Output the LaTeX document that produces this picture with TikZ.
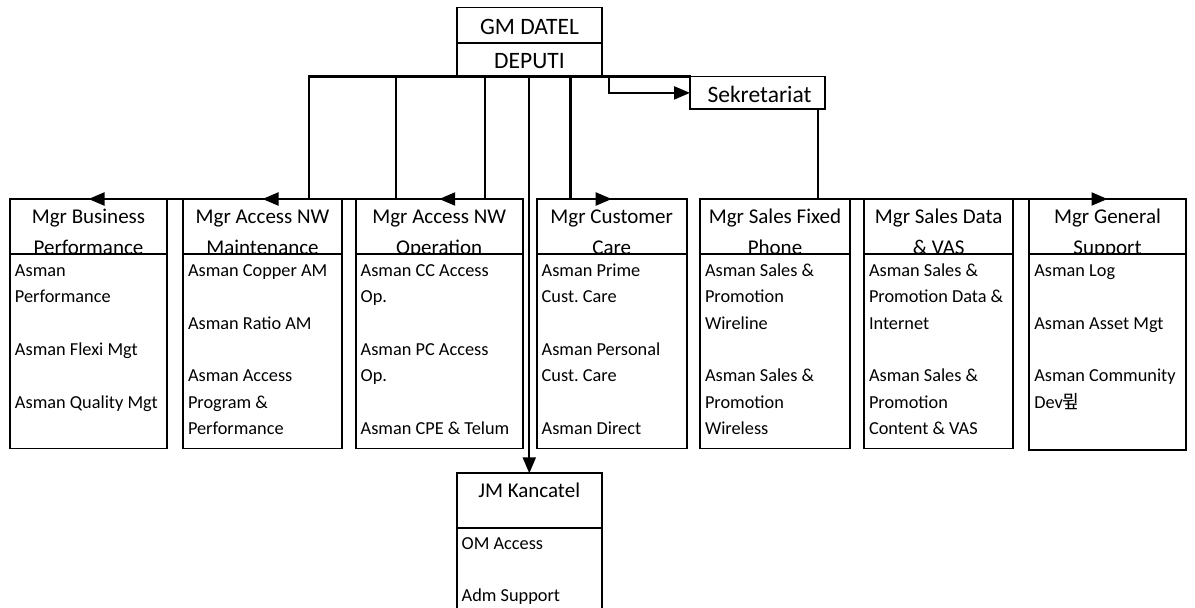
\documentclass[tikz,border=0pt]{standalone}
\usepackage{fontspec}
\setmainfont{Carlito}
\newfontfamily\krfont{Noto Sans CJK KR}
\usetikzlibrary{arrows.meta,calc}
\frenchspacing
\newcommand\bodyfont{\fontsize{18.3}{26.3}\selectfont}
\newcommand\headfont{\fontsize{21}{31}\selectfont}
\newcommand\topfont{\fontsize{23.5}{28}\selectfont}
\newcommand\orggap{\\[26.3pt]}
\tikzset{
  orgbox/.style={draw, line width=1.8pt, rectangle, inner sep=0pt, outer sep=0pt, anchor=north west},
  orgtxt/.style={inner sep=0pt, outer sep=0pt},
  conn/.style={line width=2.2pt, line cap=rect},
  arr/.style={line width=2.2pt, -{Triangle[length=16pt,width=13pt]}},
}
\newcommand\orgcol[6]{%
  \node[orgbox, minimum width={#3-#2}, minimum height=55] (#1) at (#2,199) {};
  \node[orgtxt, anchor=base] (#1-head) at ($(#1.north)+(0,24)$)
     {\parbox[t]{\dimexpr#3pt-#2pt\relax}{\headfont\centering #5\par}};
  \node[orgbox, fill=white, minimum width={#3-#2}, minimum height={#4-254}] (#1-body) at (#2,254) {};
  \node[orgtxt, anchor=base west] (#1-list) at ({#2+5},276.5)
     {\parbox[t]{300pt}{\bodyfont\raggedright #6\par}};
}
\begin{document}
\begin{tikzpicture}[x=1pt,y=-1pt]
\useasboundingbox (0,0) rectangle (1195,608);
\fill[white] (0,0) rectangle (1195,608);

% top boxes
\node[orgbox, minimum width=145.6, minimum height=35.2] (gm) at (456.7,7.5) {};
\node[orgtxt, anchor=base] (gm-t) at ($(gm.north)+(0,26.5)$) {\topfont GM DATEL};
\node[orgbox, minimum width=145.6, minimum height=33.8] (dep) at (456.7,42.7) {};
\node[orgtxt, anchor=base] (dep-t) at ($(dep.north)+(0,25.6)$) {\topfont DEPUTI};
\node[orgbox, minimum width=135, minimum height=32.8] (sek) at (690,76.5) {};
\node[orgtxt, anchor=base] (sek-t) at ($(sek.north)+(2,25.8)$) {\topfont Sekretariat};

% columns
\orgcol{bus}{10}{167}{448.5}{Mgr Business\\Performance}
  {Asman\\Performance\orggap Asman Flexi Mgt\orggap Asman Quality Mgt}
\orgcol{mnt}{183}{342}{448.5}{Mgr Access NW\\Maintenance}
  {Asman Copper AM\orggap Asman Ratio AM\orggap Asman Access\\Program \&\\Performance}
\orgcol{ops}{355.7}{522.7}{448.5}{Mgr Access NW\\Operation}
  {Asman CC Access\\Op.\orggap Asman PC Access\\Op.\orggap Asman CPE \& Telum}
\orgcol{cc}{536.7}{686.7}{448.5}{Mgr Customer\\Care}
  {Asman Prime\\Cust. Care\orggap Asman Personal\\Cust. Care\orggap Asman Direct}
\orgcol{sfp}{700}{850}{448.5}{Mgr Sales Fixed\\Phone}
  {Asman Sales \&\\Promotion\\Wireline\orggap Asman Sales \&\\Promotion\\Wireless}
\orgcol{sdv}{864}{1013.3}{448.5}{Mgr Sales Data\\\& VAS}
  {Asman Sales \&\\Promotion Data \&\\Internet\orggap Asman Sales \&\\Promotion\\Content \& VAS}
\orgcol{gen}{1029.3}{1185.7}{450}{Mgr General\\Support}
  {Asman Log\orggap Asman Asset Mgt\orggap Asman Community\\Dev{\krfont 뮢}}

% JM Kancatel
\node[orgbox, minimum width=145, minimum height=54.4] (jm) at (456.7,473.3) {};
\node[orgtxt, anchor=base] (jm-t) at ($(jm.north)+(0,24)$) {\headfont JM Kancatel};
\node[orgbox, fill=white, minimum width=145, minimum height=90] (jm-body) at (456.7,527.7) {};
\node[orgtxt, anchor=base west] (jm-list) at (461.7,549)
  {\parbox[t]{200pt}{\bodyfont\raggedright OM Access\orggap Adm Support\par}};

% connectors
\coordinate (j1) at (308.7,76.5);
\coordinate (j2) at (396,76.5);
\coordinate (j3) at (485,76.5);
\coordinate (j4) at (529.3,76.5);
\coordinate (j5) at (570.5,76.5);
\coordinate (j6) at (609.3,76.5);
\coordinate (s1) at (818.3,109.3);

\draw[conn] (j1) -- (sek.north west);
\draw[arr] (j1) |- (bus.north);
\draw[arr] (j2) |- (mnt.north);
\draw[arr] (j3) |- (ops.north);
\draw[arr] (j4) -- (j4 |- jm.north);
\draw[arr] (j5) |- (cc.north);
\draw[arr] (j6) |- (sek.west);
\draw[arr] (s1) |- (gen.north);
\end{tikzpicture}
\end{document}
